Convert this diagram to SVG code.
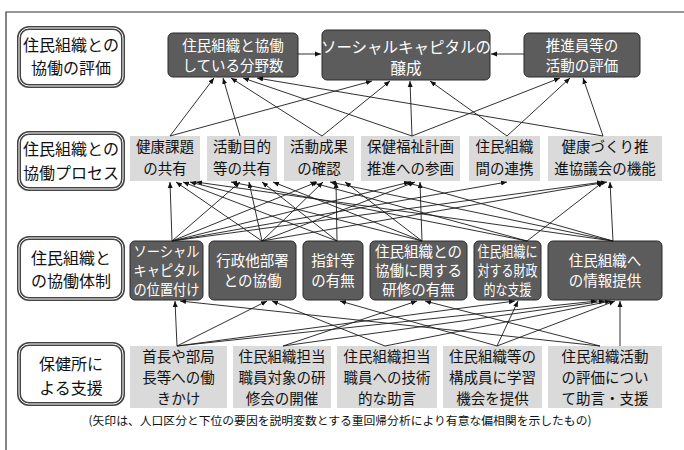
<svg xmlns="http://www.w3.org/2000/svg" width="684" height="450" viewBox="0 0 684 450">
<defs>
<marker id="ah" markerWidth="6" markerHeight="6" refX="6" refY="3" orient="auto" markerUnits="userSpaceOnUse">
<path d="M0,0.5 L6,3 L0,5.5 z" fill="#111"/>
</marker>
<style>
text{font-family:"Noto Sans CJK JP","Noto Sans CJK SC",sans-serif;text-anchor:middle;}
.lbl rect.o{fill:#fff;stroke:#444;stroke-width:4;}
.lbl rect.i{fill:none;stroke:#fff;stroke-width:1;}
.lbl text{font-size:16px;fill:#111;}
.dk rect{fill:#5c5c5c;stroke:#2a2a2a;stroke-width:1;}
.dk text{font-size:14.5px;fill:#fff;}
.lt rect{fill:#dadada;stroke:none;}
.lt text{font-size:14.5px;fill:#111;}
.cn line{stroke:#1a1a1a;stroke-width:0.9;marker-end:url(#ah);}
.note{font-size:11.8px;fill:#111;}
</style>
</defs>
<rect width="684" height="450" fill="#fff"/>
<path d="M6,450 V12 H684" fill="none" stroke="#333" stroke-width="1.2"/>

<!-- labels -->
<g id="lbl1" class="lbl"><rect class="o" x="19" y="28" width="104" height="58" rx="10"/><rect class="i" x="19" y="28" width="104" height="58" rx="10"/><text x="71" y="51">住民組織との</text><text x="71" y="74">協働の評価</text></g>
<g id="lbl2" class="lbl"><rect class="o" x="19" y="133" width="104" height="56" rx="10"/><rect class="i" x="19" y="133" width="104" height="56" rx="10"/><text x="71" y="155">住民組織との</text><text x="71" y="179">協働プロセス</text></g>
<g id="lbl3" class="lbl"><rect class="o" x="19" y="238" width="104" height="61" rx="10"/><rect class="i" x="19" y="238" width="104" height="61" rx="10"/><text x="71" y="264">住民組織と</text><text x="71" y="287">の協働体制</text></g>
<g id="lbl4" class="lbl"><rect class="o" x="19" y="344" width="104" height="60" rx="10"/><rect class="i" x="19" y="344" width="104" height="60" rx="10"/><text x="71" y="370">保健所に</text><text x="71" y="394">よる支援</text></g>

<!-- row A -->
<g id="A1" class="dk"><rect x="168" y="33" width="130" height="44" rx="5"/><text x="233" y="51">住民組織と協働</text><text x="233" y="71">している分野数</text></g>
<g id="A2" class="dk"><rect x="322" y="30" width="168" height="50" rx="5"/><text x="406" y="53" style="font-size:15.5px">ソーシャルキャピタルの</text><text x="406" y="74" style="font-size:15.5px">醸成</text></g>
<g id="A3" class="dk"><rect x="524" y="33" width="116" height="44" rx="5"/><text x="582" y="51">推進員等の</text><text x="582" y="71">活動の評価</text></g>

<!-- row B -->
<g id="B1" class="lt"><rect x="130" y="136" width="70" height="45"/><text x="165" y="152">健康課題</text><text x="165" y="174">の共有</text></g>
<g id="B2" class="lt"><rect x="207" y="136" width="70" height="45"/><text x="242" y="152">活動目的</text><text x="242" y="174">等の共有</text></g>
<g id="B3" class="lt"><rect x="284" y="136" width="70" height="45"/><text x="319" y="152">活動成果</text><text x="319" y="174">の確認</text></g>
<g id="B4" class="lt"><rect x="361" y="136" width="99" height="45"/><text x="410.5" y="152">保健福祉計画</text><text x="410.5" y="174">推進への参画</text></g>
<g id="B5" class="lt"><rect x="469" y="136" width="71" height="45"/><text x="504.5" y="152">住民組織</text><text x="504.5" y="174">間の連携</text></g>
<g id="B6" class="lt"><rect x="548" y="136" width="114" height="45"/><text x="605" y="152">健康づくり推</text><text x="605" y="174">進協議会の機能</text></g>

<!-- row C -->
<g id="C1" class="dk"><rect x="130" y="241" width="73" height="59" rx="5"/><text x="166.5" y="257" textLength="66" lengthAdjust="spacingAndGlyphs">ソーシャル</text><text x="166.5" y="276" textLength="66" lengthAdjust="spacingAndGlyphs">キャピタル</text><text x="166.5" y="295" textLength="66" lengthAdjust="spacingAndGlyphs">の位置付け</text></g>
<g id="C2" class="dk"><rect x="209" y="241" width="87" height="59" rx="5"/><text x="252.5" y="266">行政他部署</text><text x="252.5" y="286">との協働</text></g>
<g id="C3" class="dk"><rect x="303" y="241" width="60" height="59" rx="5"/><text x="333" y="266">指針等</text><text x="333" y="286">の有無</text></g>
<g id="C4" class="dk"><rect x="370" y="241" width="97" height="59" rx="5"/><text x="418.5" y="257">住民組織との</text><text x="418.5" y="276">協働に関する</text><text x="418.5" y="295">研修の有無</text></g>
<g id="C5" class="dk"><rect x="474" y="241" width="67" height="59" rx="5"/><text x="507.5" y="257" textLength="60" lengthAdjust="spacingAndGlyphs">住民組織に</text><text x="507.5" y="276" textLength="60" lengthAdjust="spacingAndGlyphs">対する財政</text><text x="507.5" y="295" textLength="48" lengthAdjust="spacingAndGlyphs">的な支援</text></g>
<g id="C6" class="dk"><rect x="548" y="241" width="114" height="59" rx="5"/><text x="605" y="266">住民組織へ</text><text x="605" y="286">の情報提供</text></g>

<!-- row D -->
<g id="D1" class="lt"><rect x="130" y="346" width="97" height="62"/><text x="178.5" y="362">首長や部局</text><text x="178.5" y="383">長等への働</text><text x="178.5" y="404">きかけ</text></g>
<g id="D2" class="lt"><rect x="233" y="346" width="98" height="62"/><text x="282" y="362">住民組織担当</text><text x="282" y="383">職員対象の研</text><text x="282" y="404">修会の開催</text></g>
<g id="D3" class="lt"><rect x="337" y="346" width="100" height="62"/><text x="387" y="362">住民組織担当</text><text x="387" y="383">職員への技術</text><text x="387" y="404">的な助言</text></g>
<g id="D4" class="lt"><rect x="443" y="346" width="99" height="62"/><text x="492.5" y="362">住民組織等の</text><text x="492.5" y="383">構成員に学習</text><text x="492.5" y="404">機会を提供</text></g>
<g id="D5" class="lt"><rect x="548" y="346" width="114" height="62"/><text x="605" y="362">住民組織活動</text><text x="605" y="383">の評価につい</text><text x="605" y="404">て助言・支援</text></g>

<g id="connectors" class="cn">
<!-- row A internal -->
<line x1="298" y1="54" x2="321" y2="54"/>
<line x1="524" y1="54" x2="491" y2="54"/>
<!-- B -> A -->
<line x1="170" y1="136" x2="214" y2="78"/>
<line x1="170" y1="136" x2="372" y2="81"/>
<line x1="240" y1="136" x2="223" y2="78"/>
<line x1="322" y1="136" x2="231" y2="78"/>
<line x1="322" y1="136" x2="390" y2="81"/>
<line x1="412" y1="136" x2="243" y2="78"/>
<line x1="412" y1="136" x2="410" y2="81"/>
<line x1="412" y1="136" x2="560" y2="78"/>
<line x1="507" y1="136" x2="430" y2="81"/>
<line x1="507" y1="136" x2="570" y2="78"/>
<line x1="603" y1="136" x2="257" y2="78"/>
<line x1="603" y1="136" x2="583" y2="78"/>
<!-- C -> B -->
<line x1="172" y1="241" x2="170" y2="182"/>
<line x1="172" y1="241" x2="240" y2="182"/>
<line x1="172" y1="241" x2="317" y2="182"/>
<line x1="172" y1="241" x2="410" y2="182"/>
<line x1="172" y1="241" x2="507" y2="182"/>
<line x1="172" y1="241" x2="603" y2="182"/>
<line x1="262" y1="241" x2="176" y2="182"/>
<line x1="262" y1="241" x2="249" y2="182"/>
<line x1="262" y1="241" x2="323" y2="182"/>
<line x1="262" y1="241" x2="415" y2="182"/>
<line x1="262" y1="241" x2="607" y2="182"/>
<line x1="337" y1="241" x2="183" y2="182"/>
<line x1="337" y1="241" x2="262" y2="182"/>
<line x1="337" y1="241" x2="336" y2="182"/>
<line x1="422" y1="241" x2="190" y2="182"/>
<line x1="422" y1="241" x2="273" y2="182"/>
<line x1="422" y1="241" x2="345" y2="182"/>
<line x1="422" y1="241" x2="420" y2="182"/>
<line x1="527" y1="241" x2="231" y2="182"/>
<line x1="527" y1="241" x2="310" y2="182"/>
<line x1="527" y1="241" x2="603" y2="182"/>
<line x1="613" y1="241" x2="196" y2="182"/>
<line x1="613" y1="241" x2="330" y2="182"/>
<line x1="613" y1="241" x2="405" y2="182"/>
<line x1="613" y1="241" x2="610" y2="182"/>
<!-- D -> C -->
<line x1="177" y1="346" x2="175" y2="301"/>
<line x1="177" y1="346" x2="267" y2="301"/>
<line x1="177" y1="346" x2="515" y2="301"/>
<line x1="177" y1="346" x2="597" y2="301"/>
<line x1="283" y1="346" x2="417" y2="301"/>
<line x1="283" y1="346" x2="605" y2="301"/>
<line x1="385" y1="346" x2="272" y2="301"/>
<line x1="385" y1="346" x2="611" y2="301"/>
<line x1="497" y1="346" x2="340" y2="301"/>
<line x1="497" y1="346" x2="518" y2="301"/>
<line x1="497" y1="346" x2="615" y2="301"/>
<line x1="600" y1="346" x2="180" y2="301"/>
<line x1="600" y1="346" x2="425" y2="301"/>
<line x1="620" y1="346" x2="620" y2="301"/>
</g>

<text class="note" x="340" y="425">(矢印は、人口区分と下位の要因を説明変数とする重回帰分析により有意な偏相関を示したもの)</text>
</svg>
